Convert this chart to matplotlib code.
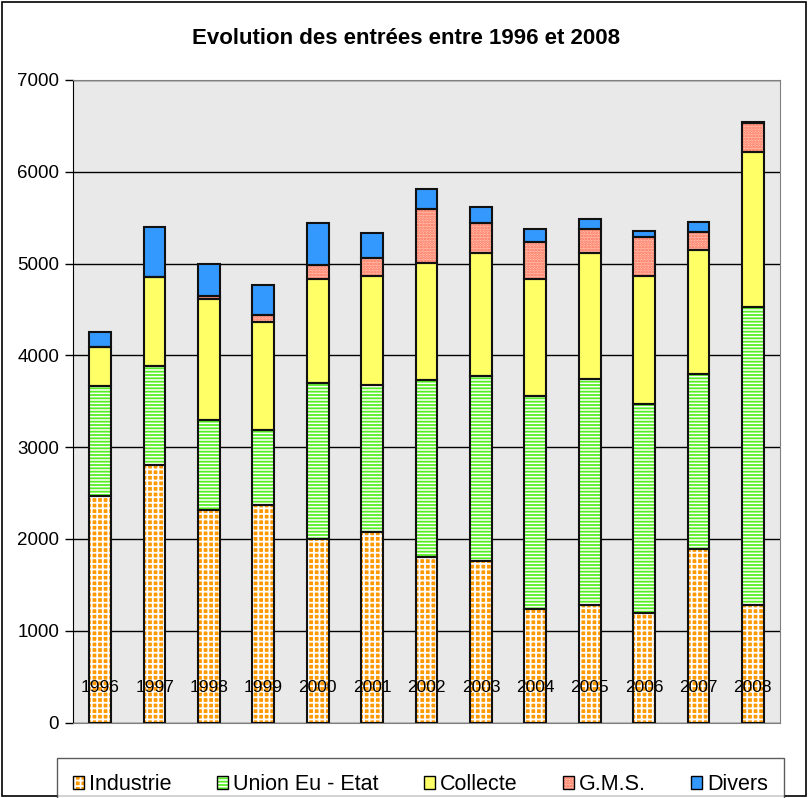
import numpy as np
import matplotlib
matplotlib.use("Agg")
import matplotlib.pyplot as plt
from matplotlib.patches import Patch, Rectangle

plt.rcParams['font.family'] = ['Liberation Sans', 'DejaVu Sans']
plt.rcParams['hatch.linewidth'] = 1.3

# Entrées par origine (tonnes), lues année par année
years = ['1996', '1997', '1998', '1999', '2000', '2001', '2002',
         '2003', '2004', '2005', '2006', '2007', '2008']
industrie = [2465, 2805, 2315, 2375, 2000, 2080, 1805, 1760, 1235, 1280, 1190, 1895, 1280]
union_eu = [1202, 1080, 981, 812, 1699, 1597, 1924, 2016, 2323, 2464, 2278, 1900, 3243]
collecte = [422, 971, 1313, 1172, 1135, 1185, 1276, 1338, 1269, 1370, 1399, 1352, 1690]
gms = [0, 0, 39, 76, 152, 196, 589, 324, 411, 262, 418, 199, 315]
divers = [167, 538, 346, 327, 456, 276, 218, 174, 138, 109, 65, 109, 17]

# (label, values, face, hatch, hatch colour)
series = [
    ("Industrie", industrie, "#ff9900", "+++", "white"),
    ("Union Eu - Etat", union_eu, "white", "-----", "#55ee22"),
    ("Collecte", collecte, "#ffff66", None, "#ffff66"),
    ("G.M.S.", gms, "#ffc4b4", "......", "#ff6a50"),
    ("Divers", divers, "#3399ff", None, "#3399ff"),
]

fig = plt.figure(figsize=(8.08, 7.98), dpi=100)
fig.patch.set_facecolor("white")
ax = fig.add_axes([73 / 808, 1 - 722.5 / 798, 707 / 808, 642.5 / 798])
ax.set_facecolor("#e9e9e9")

x = np.arange(len(years))
width = 0.40
bottom = np.zeros(len(years))
handles = []
for label, vals, face, hatch, hcol in series:
    vals = np.array(vals, dtype=float)
    if hatch:
        ax.bar(x, vals, width, bottom=bottom, color=face, edgecolor=hcol,
               hatch=hatch, linewidth=0, zorder=2)
    else:
        ax.bar(x, vals, width, bottom=bottom, color=face, linewidth=0, zorder=2)
    ax.bar(x, vals, width, bottom=bottom, fill=False, edgecolor="#111111",
           linewidth=1.5, zorder=3)
    bottom += vals
    fill = Patch(facecolor=face, edgecolor=hcol if hatch else face,
                 hatch=hatch, linewidth=0)
    edge = Patch(facecolor="none", edgecolor="black", linewidth=1.0)
    handles.append((fill, edge))

ax.set_xlim(-0.5, len(years) - 0.5)
ax.set_ylim(0, 7000)
ax.set_yticks(np.arange(0, 7001, 1000))
ax.yaxis.grid(True, color="black", linewidth=1.0, zorder=1)
ax.set_axisbelow(True)
ax.set_xticks([])
ax.tick_params(axis="y", length=6, width=1, pad=4, labelsize=13.5, colors="black")

for side in ("top", "right"):
    ax.spines[side].set_color("#808080")
ax.spines["bottom"].set_color("#808080")
ax.spines["left"].set_color("black")

for xi, yr in zip(x, years):
    ax.text(xi, 376, yr, ha="center", va="center", fontsize=12.5, zorder=5)

fig.text(406 / 808, 1 - 39 / 798, "Evolution des entrées entre 1996 et 2008",
         ha="center", va="center", fontsize=16, fontweight="bold")

leg = fig.legend(handles, [s[0] for s in series], ncol=5,
                 loc="upper left", bbox_to_anchor=(57 / 808, 1 - 758 / 798),
                 borderaxespad=0, frameon=True, fancybox=False, fontsize=15.5,
                 handlelength=0.5, handleheight=0.5, handletextpad=0.25,
                 columnspacing=2.1, borderpad=0.75)
leg.get_frame().set_edgecolor("#333333")
leg.get_frame().set_linewidth(1.0)

fig.patches.append(Rectangle((0.002, 0.002), 0.995, 0.995, transform=fig.transFigure,
                             fill=False, edgecolor="black", linewidth=1.2))

fig.savefig("out.png", dpi=100)
